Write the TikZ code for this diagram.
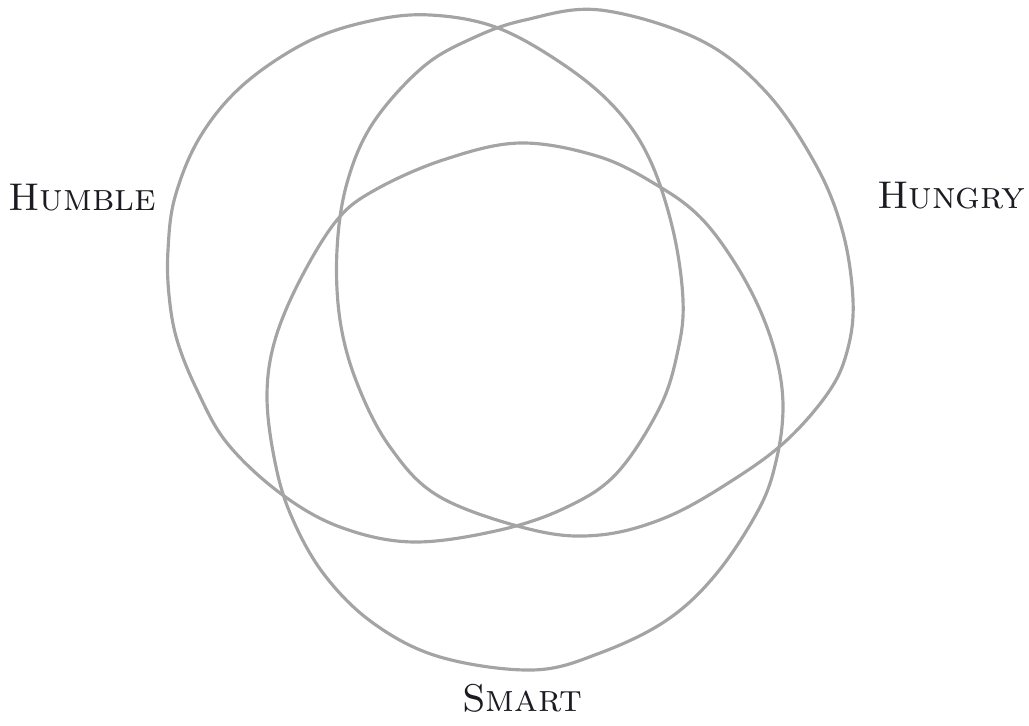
\documentclass[tikz,border=0pt]{standalone}
\usepackage{tikz}
\usetikzlibrary{positioning}
\definecolor{cring}{HTML}{A4A4A4}
\definecolor{cink}{HTML}{1B1B22}

\begin{document}
\begin{tikzpicture}[
  x=0.02cm, y=-0.02cm,
  ring/.style={
    draw=cring, line width=1.8pt,
    tension=0.6
  },
  tag/.style={
    font=\fontsize{22}{26}\selectfont\scshape,
    text=cink, inner sep=0pt
  }
]
\useasboundingbox (0,0) rectangle (1029,726);

% humble
\draw[ring] plot[smooth cycle] coordinates {
  (430,15) (498,28) (567,67) (617,110) (650,160) (673,230) (683,300)
  (678,350) (660,407) (617,473) (567,507) (500,530) (413,542) (340,527)
  (280,493) (227,443) (197,390) (177,340) (169,295) (168,250) (175,197)
  (200,137) (243,85) (307,42) (370,21)
};

% hungry
\draw[ring] plot[smooth cycle] coordinates {
  (600,10) (700,40) (767,93) (817,167) (843,233) (853,300) (848,348)
  (830,390) (787,440) (733,480) (667,517) (600,535) (533,530) (440,497)
  (390,447) (357,383) (340,320) (337,250) (347,183) (373,123) (423,67)
  (473,38) (525,20)
};

% smart
\draw[ring] plot[smooth cycle] coordinates {
  (520,143) (600,157) (660,187) (700,217) (733,260) (760,310) (777,360)
  (783,407) (777,457) (760,507) (717,573) (667,620) (600,653) (533,670)
  (440,657) (373,623) (323,573) (290,513) (274,457) (267,395) (275,340)
  (300,280) (337,220) (375,190) (443,160)
};

\node[tag] (humbleTag) at (82,198) {Humble};
\node[tag] (hungryTag) at (951,196) {Hungry};
\node[tag] (smartTag) at (522,698) {Smart};

\end{tikzpicture}
\end{document}
